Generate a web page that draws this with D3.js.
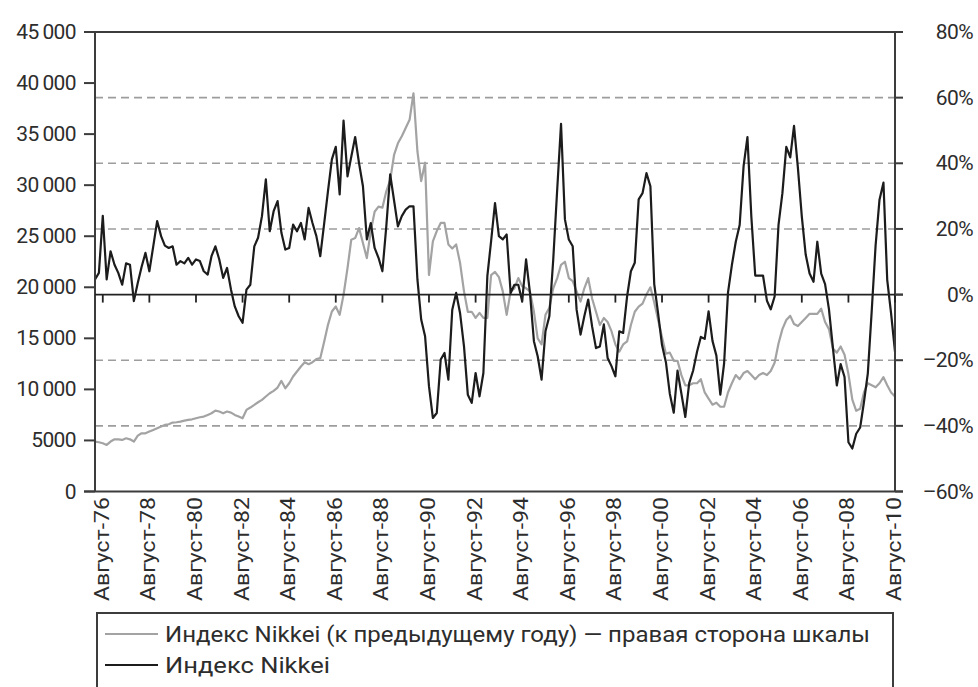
<!DOCTYPE html>
<html lang="ru">
<head>
    <meta charset="UTF-8">
    <title>Nikkei</title>
    <script src="https://d3js.org/d3.v7.min.js"></script>
    <style>
        body { margin: 0; background: #fff; }
        text { font-family: Roboto, "Liberation Sans", sans-serif; fill: #2d2d2d; }
    </style>
</head>
<body>
<svg id="main" width="978" height="687"></svg>
<script>
    // bimonthly points, first one = April 1976
    const levelValues = [
        4890, 4820, 4720, 4560, 4890, 5110, 5110, 5050, 5210, 5110, 4890, 5470,
        5700, 5700, 5870, 6030, 6190, 6360, 6520, 6590, 6750, 6780, 6850, 6940,
        7010, 7070, 7170, 7270, 7340, 7500, 7660, 7920, 7830, 7660, 7830, 7730,
        7500, 7340, 7170, 7990, 8220, 8480, 8740, 8970, 9300, 9620, 9850, 10180,
        10830, 10110, 10600, 11260, 11750, 12240, 12660, 12470, 12660, 12960, 13060, 14690,
        16320, 17630, 18120, 17300, 19260, 21880, 24660, 24820, 25800, 24330, 22860, 25500,
        27400, 27900, 27800, 29400, 30500, 33000, 34100, 34800, 35600, 36400, 39000, 33300,
        30400, 32200, 21200, 24500, 25500, 26300, 26300, 24200, 23800, 24200, 22400, 19600,
        17600, 17600, 17000, 17500, 17000, 17000, 21200, 21500, 21000, 19600, 17300, 19600,
        19900, 20900, 20100, 19900, 19600, 17600, 15000, 14400, 17300, 18000, 19900, 20900,
        22200, 22500, 20900, 20600, 19600, 18600, 19900, 20900, 18900, 17600, 16300, 17000,
        16600, 15700, 14400, 13700, 14400, 14700, 16300, 17600, 18100, 18400, 19300, 20000,
        18500, 16800, 15100, 13500, 13600, 12800, 12800, 11400, 10400, 10400, 10600, 10600,
        11000, 9700, 9100, 8500, 8700, 8300, 8300, 9700, 10600, 11400, 11000, 11600,
        11800, 11400, 11000, 11400, 11600, 11400, 11800, 12600, 14500, 15900, 16800, 17200,
        16400, 16200, 16600, 17000, 17400, 17400, 17400, 17900, 16600, 15900, 14000, 13600,
        14200, 13400, 11500, 9000, 7900, 8100, 9700, 10600, 10400, 10200, 10600, 11200,
        10400, 9700, 9300
    ];
    const yoyValues = [
        4.6, 6.6, 24, 4.6, 13.2, 9.1, 6.6, 3.0, 9.5, 9.1, -2.0, 3.6,
        8.4, 12.7, 7.1, 14.7, 22.4, 17.8, 14.9, 14.2, 14.7, 9.1, 10.2, 9.5,
        11.2, 9.1, 10.7, 10.2, 7.1, 6.1, 11.7, 14.7, 10.7, 5.1, 8.1, 1.5,
        -3.6, -6.6, -8.6, 1.5, 3.0, 14.7, 17.3, 23.9, 35.1, 19.3, 25.4, 28.5,
        18.8, 13.7, 14.2, 21.3, 19.3, 21.8, 16.8, 26.4, 21.8, 17.8, 11.7, 21.8,
        31.5, 41.2, 45, 30.5, 53, 36, 42, 48, 40, 33, 16.8, 21.8,
        14.2, 11.2, 7.1, 20.8, 36.6, 28.5, 20.8, 23.9, 25.9, 26.9, 26.9, 4.6,
        -7.6, -12.7, -27.9, -37.6, -36.1, -19.8, -17.8, -25.9, -4.6, 0.5, -5.6, -15.8,
        -30.5, -33.0, -23.9, -31.0, -23.9, 5.6, 16.3, 27.9, 17.8, 16.8, 18.3, 0.5,
        3.0, 3.0, -2.0, 10.7, 0.5, -14.2, -18.8, -25.9, -11.2, -6.6, 10.7, 32.0,
        52, 22.9, 16.8, 14.7, -4.6, -12.2, -6.6, -1.5, -9.7, -16.3, -15.8, -9.1,
        -19.3, -21.8, -24.9, -11.2, -11.7, -0.5, 7.1, 9.7, 29.0, 30.9, 37, 33,
        3.2, -5.8, -15.4, -20.6, -30.2, -36, -23.2, -30.2, -37.3, -27.0, -23.2, -17.4,
        -12.9, -13.5, -5.1, -14.1, -18.6, -30.5, -21, 0.6, 9.0, 16.1, 21.2, 39.2,
        48, 23.8, 5.8, 5.8, 5.8, -1.9, -4.5, -0.6, 21.2, 30.9, 45.0, 41.8,
        51.4, 38.6, 23.8, 12.2, 6.4, 3.9, 16.1, 6.4, 3.2, -4.5, -16.1, -27.7,
        -21.2, -25.1, -45.0, -46.9, -42.4, -40.5, -32.8, -24, -5, 15, 28.9, 34.1,
        4.5, -5.8, -17.4
    ];
    const tickYears = d3.range(1976, 2011, 2);
    const leftTicks = [0, 5000, 10000, 15000, 20000, 25000, 30000, 35000, 40000, 45000];
    const rightTicks = [-60, -40, -20, 0, 20, 40, 60, 80];
    const gridTicks = [-40, -20, 20, 40, 60];
    const legendItems = [
        {label: 'Индекс Nikkei (к предыдущему году) — правая сторона шкалы', color: '#a3a3a3', w: 705},
        {label: 'Индекс Nikkei', color: '#1c1c1c', w: 165}
    ];

    let svg = d3.select('svg#main');
    let plot = {left: 95, right: 895, top: 32, bottom: 491.5};
    let startDate = new Date(1976, 3, 1);
    let dates = d3.range(levelValues.length).map(i => d3.timeMonth.offset(startDate, 2 * i));

    let xScale = d3.scaleTime().domain([startDate, new Date(2010, 7, 1)]).range([plot.left, plot.right]);
    let yLeft = d3.scaleLinear().domain([0, 45000]).range([plot.bottom, plot.top]);
    let yRight = d3.scaleLinear().domain([-60, 80]).range([plot.bottom, plot.top]);
    let axisColor = '#3c3c3c';

    // dashed grid (right scale)
    svg.selectAll('line.grid')
        .data(gridTicks)
        .enter()
        .append('line')
        .attr('x1', plot.left).attr('x2', plot.right)
        .attr('y1', d => yRight(d)).attr('y2', d => yRight(d))
        .attr('stroke', '#9d9d9d')
        .attr('stroke-width', 1.6)
        .attr('stroke-dasharray', '8,5');

    // series
    let levelLine = d3.line()
        .x((d, i) => xScale(dates[i]))
        .y(d => yLeft(d));
    let yoyLine = d3.line()
        .x((d, i) => xScale(dates[i]))
        .y(d => yRight(d));

    svg.append('path')
        .datum(levelValues)
        .attr('d', levelLine)
        .attr('fill', 'none')
        .attr('stroke', '#a3a3a3')
        .attr('stroke-width', 2.2)
        .attr('stroke-linejoin', 'round');

    svg.append('path')
        .datum(yoyValues)
        .attr('d', yoyLine)
        .attr('fill', 'none')
        .attr('stroke', '#1c1c1c')
        .attr('stroke-width', 2.2)
        .attr('stroke-linejoin', 'round');

    // frame
    svg.append('line')
        .attr('x1', plot.left - 11).attr('x2', plot.right + 8)
        .attr('y1', plot.top).attr('y2', plot.top)
        .attr('stroke', axisColor).attr('stroke-width', 2);
    svg.append('line')
        .attr('x1', plot.left - 11).attr('x2', plot.right + 8)
        .attr('y1', plot.bottom).attr('y2', plot.bottom)
        .attr('stroke', axisColor).attr('stroke-width', 2);
    svg.append('line')
        .attr('x1', plot.left).attr('x2', plot.left)
        .attr('y1', plot.top).attr('y2', plot.bottom)
        .attr('stroke', axisColor).attr('stroke-width', 2);
    svg.append('line')
        .attr('x1', plot.right).attr('x2', plot.right)
        .attr('y1', plot.top).attr('y2', plot.bottom)
        .attr('stroke', axisColor).attr('stroke-width', 2);

    // zero line with date ticks
    let zeroY = yRight(0);
    svg.append('line')
        .attr('x1', plot.left).attr('x2', plot.right + 8)
        .attr('y1', zeroY).attr('y2', zeroY)
        .attr('stroke', '#222').attr('stroke-width', 1.8);
    svg.selectAll('line.xtick')
        .data(tickYears)
        .enter()
        .append('line')
        .attr('x1', d => xScale(new Date(d, 7, 1)))
        .attr('x2', d => xScale(new Date(d, 7, 1)))
        .attr('y1', zeroY).attr('y2', zeroY + 8)
        .attr('stroke', '#222').attr('stroke-width', 1.8);

    // left axis
    svg.selectAll('line.ltick')
        .data(leftTicks)
        .enter()
        .append('line')
        .attr('x1', plot.left - 11).attr('x2', plot.left)
        .attr('y1', d => yLeft(d)).attr('y2', d => yLeft(d))
        .attr('stroke', axisColor).attr('stroke-width', 2);
    svg.selectAll('text.ltick')
        .data(leftTicks)
        .enter()
        .append('text')
        .attr('x', 76)
        .attr('y', d => yLeft(d) + 7)
        .attr('text-anchor', 'end')
        .style('font-size', '21px')
        .style('letter-spacing', '-0.6px')
        .text(d => d < 10000 ? (d === 0 ? '0' : String(d)) : d3.format(',')(d).replace(',', '\u2009'));

    // right axis
    svg.selectAll('line.rtick')
        .data(rightTicks.filter(d => d < 80))
        .enter()
        .append('line')
        .attr('x1', plot.right).attr('x2', plot.right + 8)
        .attr('y1', d => yRight(d)).attr('y2', d => yRight(d))
        .attr('stroke', axisColor).attr('stroke-width', 2);
    svg.selectAll('text.rtick')
        .data(rightTicks)
        .enter()
        .append('text')
        .attr('x', 973)
        .attr('y', d => yRight(d) + 7)
        .attr('text-anchor', 'end')
        .style('font-size', '21px')
        .style('letter-spacing', '-0.6px')
        .text(d => (d < 0 ? '\u2013' + Math.abs(d) : d) + '%');

    // date labels
    svg.selectAll('text.xlab')
        .data(tickYears)
        .enter()
        .append('text')
        .attr('transform', d => 'translate(' + (xScale(new Date(d, 7, 1)) + 6) + ',497) rotate(-90)')
        .attr('text-anchor', 'end')
        .style('font-size', '21px')
        .attr('textLength', 104)
        .attr('lengthAdjust', 'spacingAndGlyphs')
        .text(d => 'Август-' + String(d).slice(2));

    // legend
    let legend = svg.append('g');
    legend.append('rect')
        .attr('x', 97).attr('y', 613)
        .attr('width', 796).attr('height', 120)
        .attr('fill', 'none')
        .attr('stroke', axisColor).attr('stroke-width', 2);
    let items = legend.selectAll('g.item')
        .data(legendItems)
        .enter()
        .append('g')
        .attr('transform', (d, i) => 'translate(0,' + (634 + i * 31) + ')');
    items.append('line')
        .attr('x1', 105).attr('x2', 158)
        .attr('y1', 0).attr('y2', 0)
        .attr('stroke', d => d.color).attr('stroke-width', 2);
    items.append('text')
        .attr('x', 165).attr('y', 8)
        .style('font-size', '22px')
        .attr('textLength', d => d.w)
        .attr('lengthAdjust', 'spacingAndGlyphs')
        .text(d => d.label);
</script>
</body>
</html>
